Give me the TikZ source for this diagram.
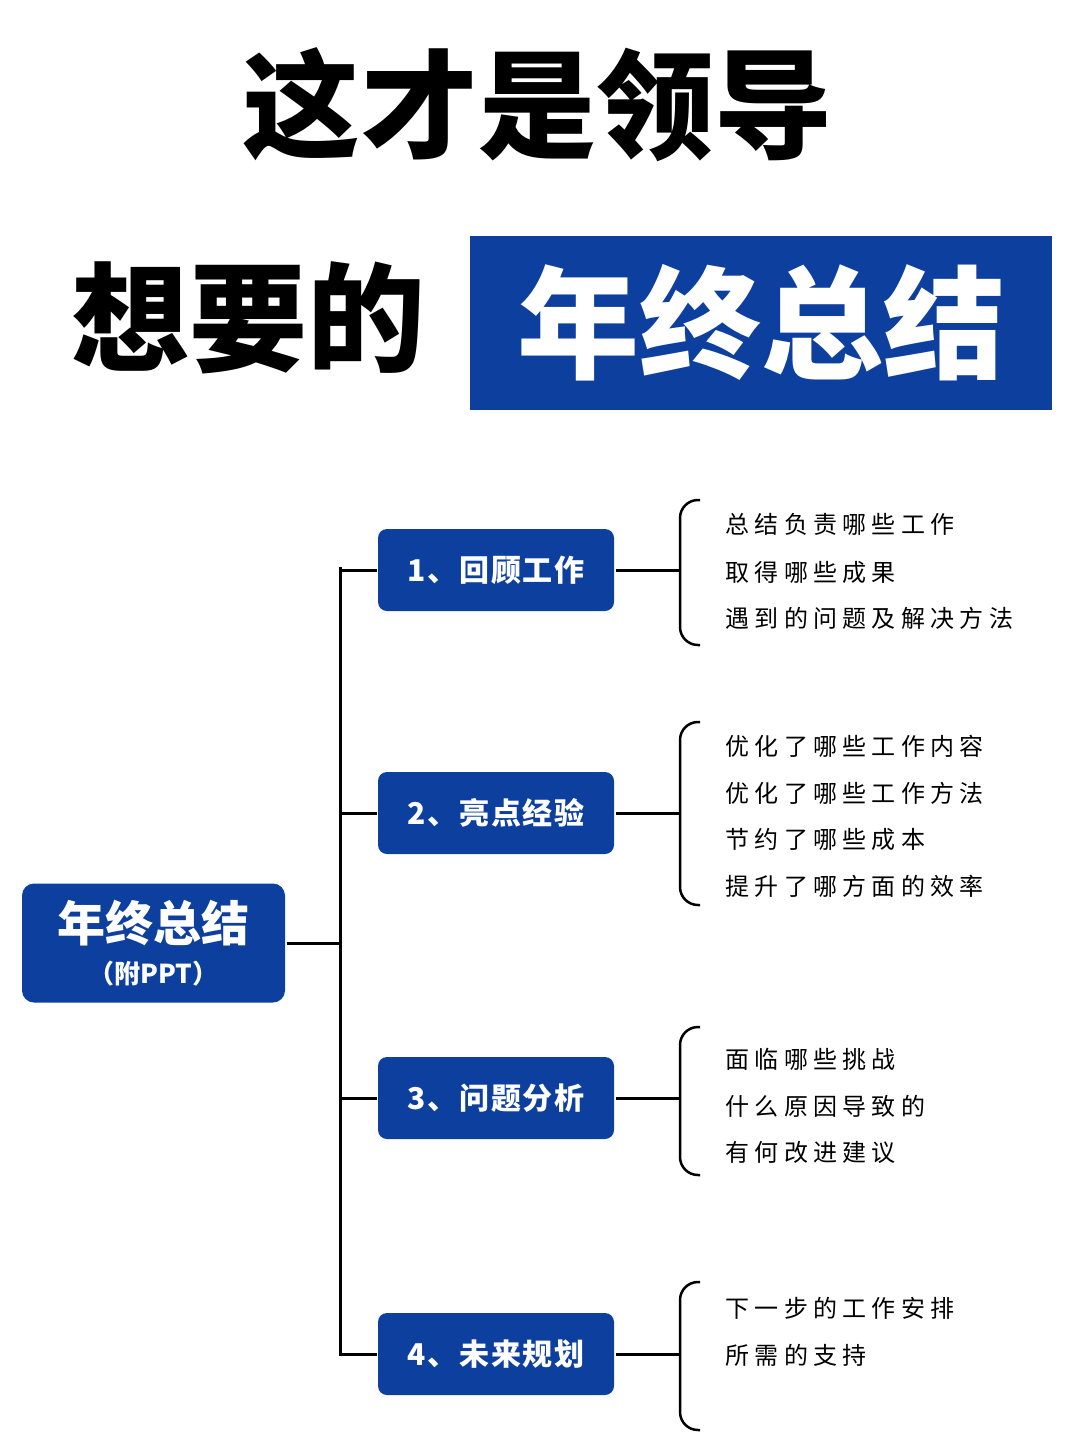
\documentclass[tikz,border=0pt]{standalone}
\usepackage{fontspec}
\newfontfamily\cjk{Noto Sans CJK SC}
\newfontfamily\itemfont[LetterSpace=22]{Noto Sans CJK SC}
\newfontfamily\partfont[LetterSpace=6]{Noto Sans CJK SC}
\usetikzlibrary{positioning}
\definecolor{leadblue}{HTML}{0D3F9F}
\begin{document}
\begin{tikzpicture}
% Style
[
    x=1pt, y=-1pt, line width=3pt,
    part/.style={fill=leadblue, rounded corners=9pt, minimum width=236pt, minimum height=82pt,
        text=white, font=\partfont\bfseries\fontsize{30}{36}\selectfont},
    point/.style={anchor=west, font=\itemfont\fontsize{24}{28}\selectfont, inner sep=0pt},
]
\useasboundingbox (0,0) rectangle (1080,1438);

%=================================== Title ===================================
\node[font=\cjk\bfseries\fontsize{118}{130}\selectfont] (title-a) at (537,105) {这才是领导};
\node[font=\cjk\bfseries\fontsize{118}{130}\selectfont, anchor=west, inner sep=0pt] (title-b) at (70,318) {想要的};
\node[fill=leadblue, minimum width=582pt, minimum height=174pt, text=white,
      font=\cjk\bfseries\fontsize{122}{130}\selectfont] (title-c) at (761,323) {年终总结};

%=================================== Tree ===================================
\node[fill=leadblue, rounded corners=12pt, minimum width=263pt, minimum height=119pt,
      text=white, align=center, font=\cjk\bfseries] (root) at (153.5,943)
      {{\fontsize{48}{56}\selectfont 年终总结}\\[14pt]{\fontsize{26}{30}\selectfont （附PPT）}};

\coordinate (trunk-top) at (340,567);
\coordinate (trunk-bot) at (340,1356);
\draw (trunk-top) -- (trunk-bot);
\draw (root.east) -- (root.east -| trunk-top);

\foreach \y/\name/\top/\bot [count=\i] in {570/回顾工作/500/645, 813/亮点经验/722/905,
                                          1098/问题分析/1027/1175, 1354/未来规划/1282/1430} {
    \node[part] (part-\i) at (496,\y) {\i、\name};
    \draw (part-\i.west -| trunk-top) -- (part-\i.west);
    \coordinate (brace-\i) at (680,\y);
    \draw (part-\i.east) -- (brace-\i);
    \draw[line width=2.5pt, rounded corners=18pt] (700,\top) -- (680,\top) -- (680,\bot) -- (700,\bot);
}

\node[point] (p1-1) at (724,524) {总结负责哪些工作};
\node[point] (p1-2) at (724,572) {取得哪些成果};
\node[point] (p1-3) at (724,618) {遇到的问题及解决方法};

\node[point] (p2-1) at (724,746) {优化了哪些工作内容};
\node[point] (p2-2) at (724,793) {优化了哪些工作方法};
\node[point] (p2-3) at (724,839) {节约了哪些成本};
\node[point] (p2-4) at (724,886) {提升了哪方面的效率};

\node[point] (p3-1) at (724,1059) {面临哪些挑战};
\node[point] (p3-2) at (724,1106) {什么原因导致的};
\node[point] (p3-3) at (724,1152) {有何改进建议};

\node[point] (p4-1) at (724,1308) {下一步的工作安排};
\node[point] (p4-2) at (724,1355) {所需的支持};
\end{tikzpicture}
\end{document}
